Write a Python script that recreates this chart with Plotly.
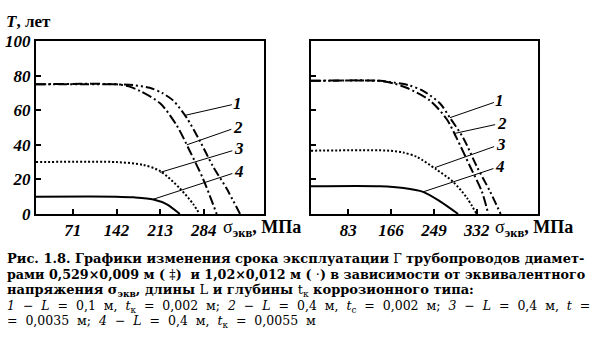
import plotly.graph_objects as go

W, H = 595, 342

# ---------- data ----------
# left panel (D = 0.529 x 0.009 m)
L_x1 = [11, 142, 170, 196, 216, 234, 256, 278, 299, 321, 343]
L_T1 = [75, 75, 74.5, 73, 70, 65.7, 55.7, 42, 27.5, 14.8, 0]
L_x2 = [11, 142, 162, 180, 213, 240, 261, 283, 305]
L_T2 = [75, 75, 73.8, 71.2, 64, 51.2, 36.6, 20.2, 0]
L_x3 = [11, 142, 185, 213, 245, 267, 277]
L_T3 = [30, 30, 28.4, 24.8, 14.8, 5.6, 0]
L_x4 = [11, 142, 170, 202, 224, 245]
L_T4 = [10, 10, 9.6, 8.4, 5.6, 0]

# right panel (D = 1.02 x 0.012 m)
R_x1 = [10.6, 145, 164, 200, 228, 261, 280, 306, 332, 358, 378.5]
R_T1 = [77, 77, 76.3, 74.5, 71.2, 63.9, 55.7, 44, 27.6, 13, 0]
R_x2 = [10.6, 145, 170, 196, 241, 274, 293, 319, 342, 354.5]
R_T2 = [77, 77, 75.6, 73, 65.7, 54.8, 44, 27.6, 13, 0]
R_x3 = [10.6, 164, 190, 216, 254, 287, 313, 332]
R_T3 = [36.6, 36.6, 35.5, 33, 25.7, 18.4, 9.3, 0]
R_x4 = [10.6, 145, 190, 228, 261, 296]
R_T4 = [16, 16, 15, 12.8, 7.3, 0]

curve_labels = ["1", "2", "3", "4"]
# leader lines: point on curve, label position
L_lead_x = [253, 256.5, 212.6, 201]
L_lead_T = [57, 40, 24, 8.4]
L_lab_x = [339.5, 339.5, 341, 341]
L_lab_T = [64, 50.3, 37.7, 24.6]
R_lead_x = [280.2, 288, 251, 228.4]
R_lead_T = [55.7, 46.5, 26.8, 12.8]
R_lab_x = [377.2, 380.5, 378.5, 377.2]
R_lab_T = [65.7, 52.5, 40.3, 27.5]

L_ticks = [71, 142, 213, 284]
R_ticks = [83, 166, 249, 332]
y_ticks = [0, 20, 40, 60, 80, 100]

styles = [
    dict(dash="9px,3px,2px,3px,2px,3px", width=2),
    dict(dash="10px,3px,2px,3px", width=2),
    dict(dash="2px,2px", width=2),
    dict(dash="solid", width=2),
]

SERIF = "Liberation Serif"
CAP = "DejaVu Serif"

fig = go.Figure()

for xs, ts, st in zip([L_x1, L_x2, L_x3, L_x4], [L_T1, L_T2, L_T3, L_T4], styles):
    fig.add_trace(go.Scatter(x=xs, y=ts, mode="lines", xaxis="x", yaxis="y",
                             line=dict(color="black", shape="spline", smoothing=0.8, **st),
                             showlegend=False, hoverinfo="skip"))
for xs, ts, st in zip([R_x1, R_x2, R_x3, R_x4], [R_T1, R_T2, R_T3, R_T4], styles):
    fig.add_trace(go.Scatter(x=xs, y=ts, mode="lines", xaxis="x2", yaxis="y2",
                             line=dict(color="black", shape="spline", smoothing=0.8, **st),
                             showlegend=False, hoverinfo="skip"))

ann = []
for lab, px_, pt, lx, lt in zip(curve_labels, L_lead_x, L_lead_T, L_lab_x, L_lab_T):
    ann.append(dict(x=px_, y=pt, ax=lx, ay=lt, xref="x", yref="y", axref="x", ayref="y",
                    text=f"<b><i>{lab}</i></b>", showarrow=True, arrowhead=0, arrowwidth=1,
                    arrowcolor="black", standoff=0, font=dict(family=SERIF, size=17, color="black")))
for lab, px_, pt, lx, lt in zip(curve_labels, R_lead_x, R_lead_T, R_lab_x, R_lab_T):
    ann.append(dict(x=px_, y=pt, ax=lx, ay=lt, xref="x2", yref="y2", axref="x2", ayref="y2",
                    text=f"<b><i>{lab}</i></b>", showarrow=True, arrowhead=0, arrowwidth=1,
                    arrowcolor="black", standoff=0, font=dict(family=SERIF, size=17, color="black")))


def P(x, y):
    return x / W, 1 - y / H


# axis titles
x, y = P(4, 13)
ann.append(dict(x=x, y=y, xref="paper", yref="paper", xanchor="left", yanchor="middle",
                text="<b><i>T</i>, лет</b>", showarrow=False,
                font=dict(family=SERIF, size=17, color="black")))
for xp in [221, 493]:
    x, y = P(xp, 232)
    ann.append(dict(x=x, y=y, xref="paper", yref="paper", xanchor="left", yanchor="middle",
                    text="σ<sub><b>экв</b></sub><b>, МПа</b>", showarrow=False,
                    font=dict(family=SERIF, size=18, color="black")))

# caption
NB = "\u00a0"
S = " " + NB  # widened space for the justified regular lines
cap_bold = [
    ("<b>Рис. 1.8. Графики изменения срока эксплуатации</b> Г <b>трубопроводов диамет-</b>", 264, 13.0),
    ("<b>рами 0,529×0,009 м ( </b>‡<b>)" + NB * 2 + "и 1,02×0,012 м ( </b>·<b>) в зависимости от эквивалентного</b>", 281, 12.7),
    ("<b>напряжения σ<sub>экв</sub>, длины </b>L<b> и глубины </b>t<sub>к</sub><b> коррозионного типа:</b>", 298, 13.0),
]
cap_reg = [
    ("<i>1</i> − <i>L</i> = 0,1 м, <i>t</i><sub>к</sub> = 0,002 м; <i>2</i> − <i>L</i> = 0,4 м, <i>t</i><sub>с</sub> = 0,002 м; <i>3</i> − <i>L</i> = 0,4 м, <i>t</i> =", 315),
    ("= 0,0035 м; <i>4</i> − <i>L</i> = 0,4 м, <i>t</i><sub>к</sub> = 0,0055 м", 331),
]
for txt, yp, fs in cap_bold:
    x, y = P(5, yp)
    ann.append(dict(x=x, y=y, xref="paper", yref="paper", xanchor="left", yanchor="middle",
                    text=txt, showarrow=False, font=dict(family=CAP, size=fs, color="black")))
for txt, yp in cap_reg:
    x, y = P(5, yp)
    ann.append(dict(x=x, y=y, xref="paper", yref="paper", xanchor="left", yanchor="middle",
                    text=txt.replace(" ", S), showarrow=False,
                    font=dict(family=CAP, size=12.5, color="black")))

axis_common = dict(showline=True, mirror=True, linecolor="black", linewidth=2,
                   ticks="inside", ticklen=5, tickwidth=1.5, tickcolor="black",
                   showgrid=False, zeroline=False,
                   tickfont=dict(family=SERIF, size=17, color="black"))

y0, y1 = 1 - 217 / H, 1 - 34 / H
fig.update_layout(
    width=W, height=H, margin=dict(l=0, r=0, t=0, b=0),
    paper_bgcolor="white", plot_bgcolor="white",
    xaxis=dict(domain=[36 / W, 264 / W], range=[11, 382], tickvals=L_ticks,
               ticktext=[f"<b><i>{v}</i></b>" for v in L_ticks], anchor="y", **axis_common),
    yaxis=dict(domain=[y0, y1], range=[0, 100], tickvals=y_ticks,
               ticktext=[f"<b><i>{v}</i></b>" for v in y_ticks], anchor="x", **axis_common),
    xaxis2=dict(domain=[311 / W, 538 / W], range=[10.6, 451], tickvals=R_ticks,
                ticktext=[f"<b><i>{v}</i></b>" for v in R_ticks], anchor="y2", **axis_common),
    yaxis2=dict(domain=[y0, y1], range=[0, 100], tickvals=y_ticks, showticklabels=False,
                anchor="x2", **axis_common),
    annotations=ann,
)

fig.write_html("out.html")
